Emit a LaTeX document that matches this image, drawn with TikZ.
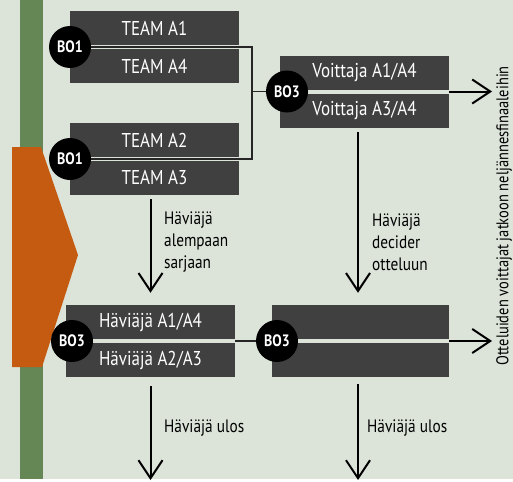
\documentclass[tikz,border=0pt]{standalone}
\usepackage{fontspec}
\setmainfont{PT Sans}[FakeStretch=0.85]
\usetikzlibrary{arrows.meta}
\definecolor{bgcol}{HTML}{DCE4D9}
\definecolor{barcol}{HTML}{658755}
\definecolor{flagcol}{HTML}{C55A11}
\definecolor{boxcol}{HTML}{404040}

\begin{document}
\begin{tikzpicture}[x=1pt, y=-1pt,
		teambox/.style={fill=boxcol, text=white, minimum height=34pt, inner sep=0pt, font=\fontsize{20}{24}\selectfont},
		bo/.style={circle, fill=black, text=white, minimum size=42pt, inner sep=0pt, font=\bfseries\fontsize{16.5}{18}\selectfont},
		joinline/.style={line width=1.2pt, black!85},
		flow/.style={line width=2pt, -{Straight Barb[length=18pt, width=24pt]}},
		note/.style={align=left, anchor=west, inner sep=0pt, font=\fontsize{18}{22}\selectfont}]
		% Draw the background
		\fill[bgcol] (0,0) rectangle (513,479);
		\fill[barcol] (20,0) rectangle (43,479);
		\fill[flagcol] (12,147) -- (41,147) -- (78,255) -- (42,367) -- (12,367) -- cycle;

		% Place the boxes
		\foreach \name/\x/\y/\w/\label in {a1/154.5/28/169/{TEAM A1}, a4/154.5/66/169/{TEAM A4},
			a2/154.5/140/169/{TEAM A2}, a3/154.5/178/169/{TEAM A3},
			va/364.5/72.5/169/{Voittaja A1/A4}, vb/364.5/110.5/169/{Voittaja A3/A4},
			la/150.5/322/169/{Häviäjä A1/A4}, lb/150.5/360/169/{Häviäjä A2/A3},
			lc/360.5/322/177/{}, ld/360.5/360/177/{}} {
			\node[teambox, minimum width=\w pt] (\name) at (\x,\y) {\label};
		}

		% Place the series markers
		\node[bo] (bo1a) at (70,47) {BO1};
		\node[bo] (bo1b) at (70,159) {BO1};
		\node[bo] (bo3a) at (287,91.5) {BO3};
		\node[bo] (bo3b) at (72,341) {BO3};
		\node[bo] (bo3c) at (277,341) {BO3};

		% Connect the matches
		\coordinate (join) at (252,91.5);
		\draw[joinline] (bo1a.east) -| (join) |- (bo1b.east);
		\draw[joinline] (join) -- (bo3a.west);
		\draw[joinline] (la.east |- bo3c) -- (bo3c.west);

		% Add the arrows
		\coordinate (wina) at (492,91.5);
		\coordinate (winb) at (492,341);
		\coordinate (outa) at (150.5,480);
		\coordinate (outb) at (358,480);
		\draw[flow] (va.east |- bo3a) -- (wina);
		\draw[flow] (lc.east |- bo3c) -- (winb);
		\draw[flow, shorten <=4pt, shorten >=12pt] (a3.south -| la.north) -- (la.north);
		\draw[flow, shorten <=4pt, shorten >=12pt] (vb.south -| outb) -- (lc.north -| outb);
		\draw[flow, shorten <=9pt] (lb.south) -- (outa);
		\draw[flow, shorten <=7pt] (outb |- ld.south) -- (outb);

		% Add annotations
		\node[note] (drop1) at (164,242) {Häviäjä\\alempaan\\sarjaan};
		\node[note] (drop2) at (372,242) {Häviäjä\\decider\\otteluun};
		\node[note] (elim1) at (164,428) {Häviäjä ulos};
		\node[note] (elim2) at (367,428) {Häviäjä ulos};
		\node[rotate=90, inner sep=0pt, font=\fontsize{17}{20}\selectfont] (goal) at (504,216) {Otteluiden voittajat jatkoon neljännesfinaaleihin};
	\end{tikzpicture}
\end{document}
